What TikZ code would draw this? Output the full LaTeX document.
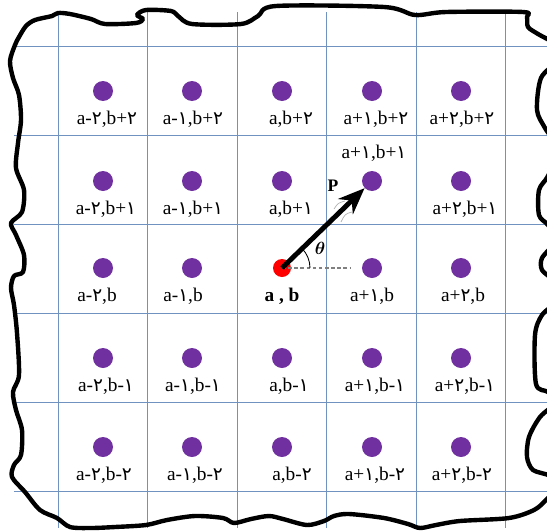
\documentclass[tikz,border=0pt]{standalone}
\usepackage{amsmath,bm}
\usepackage{fontspec}
\setmainfont{Liberation Serif}
\newfontfamily\digfont{DejaVu Sans}
\usetikzlibrary{arrows.meta}
\definecolor{dotpurple}{RGB}{112,48,160}
\definecolor{gridblue}{RGB}{112,146,192}
\newcommand{\yek}{{\digfont\fontsize{10.5}{12}\selectfont ١}}
\newcommand{\doo}{{\digfont\fontsize{10.5}{12}\selectfont ٢}}

\begin{document}
\begin{tikzpicture}[
  x=0.02cm,y=-0.02cm,
  dot/.style={circle,fill=dotpurple,minimum size=0.4cm,inner sep=0pt},
  center/.style={circle,fill=red,minimum size=0.36cm,inner sep=0pt},
  lbl/.style={inner sep=0pt,font=\fontsize{11}{13}\selectfont},
  gridline/.style={draw=gridblue,line width=0.5pt},
  arr/.style={-{Stealth[length=15pt,width=12pt]},line width=2.8pt}]
\useasboundingbox (0,0) rectangle (547,531);
\clip (0,0) rectangle (547,531);
% grid
\foreach \x in {58,147.5,237,326.5,416,505.5} \draw[gridline] (\x,12) -- (\x,528);
\foreach \y in {46,135,224,313,402,491} \draw[gridline] (14,\y) -- (547,\y);
% torn paper edge
\draw[line width=2.5pt,line join=round] plot[smooth cycle,tension=0.5] coordinates {
  (10,61) (15,45) (19,37) (26,26) (35,20) (52,16) (58,13) (70,14) (91,19) (105,24)
  (136,23) (143,19) (137,15) (146,10) (171,11) (178,16) (192,24) (241,24) (258,16)
  (276,6) (384,7) (415,15) (446,12) (523,12) (527,17) (528,27) (538,34) (556,45)
  (558,60) (541,78) (537,110) (545,128) (558,150) (548,176) (539,190) (539,215)
  (548,225) (556,240) (542,258) (542,270) (552,280) (557,300) (542,315) (535,335)
  (536,384) (548,392) (556,402) (540,417) (529,437) (527,457) (533,470) (550,476)
  (556,488) (546,500) (534,510) (509,518) (460,521) (436,525) (420,528) (408,524)
  (384,518) (349,514) (334,516) (324,521) (307,525) (283,519) (269,516) (251,519)
  (234,523) (223,518) (195,516) (167,520) (146,525) (115,527) (91,528) (70,527)
  (57,518) (40,510) (25,492) (12,477) (14,465) (21,455) (22,430) (16,410)
  (13,392) (19,375) (17,333) (14,305) (11,288) (14,276) (23,272) (24,255)
  (16,235) (11,223) (22,212) (24,190) (16,168) (18,143) (21,120) (19,95) (13,78)};
% lattice points
\foreach \n/\x/\y/\lx/\t in {
  11/103/91/107/{a-\doo,b+\doo}, 12/192/91/193/{a-\yek,b+\doo}, 13/282/91/291/{a,b+\doo},
  14/372/91/376/{a+\yek,b+\doo}, 15/461/91/462/{a+\doo,b+\doo},
  21/103/181/106/{a-\doo,b+\yek}, 22/192/181/193/{a-\yek,b+\yek}, 23/282/181/291/{a,b+\yek},
  25/461/181/465/{a+\doo,b+\yek},
  31/103/268/97/{a-\doo,b}, 32/192/268/183/{a-\yek,b}, 34/372/268/372/{a+\yek,b},
  35/461/268/463/{a+\doo,b},
  41/103/358/106/{a-\doo,b-\yek}, 42/192/358/193/{a-\yek,b-\yek}, 43/282/358/289/{a,b-\yek},
  44/372/358/375/{a+\yek,b-\yek}, 45/461/358/465/{a+\doo,b-\yek},
  51/103/447/104/{a-\doo,b-\doo}, 52/192/447/195/{a-\yek,b-\doo}, 53/282/447/292/{a,b-\doo},
  54/372/447/375/{a+\yek,b-\doo}, 55/461/447/462/{a+\doo,b-\doo}}
{
  \node[dot] (d\n) at (\x,\y) {};
  \node[lbl] (t\n) at (\lx,\y+28) {\t};
}
\node[dot] (d24) at (372,181) {};
\node[lbl] (t24) at (374,153) {a+\yek,b+\yek};
\node[center] (c) at (282,268) {};
\node[lbl] (tc) at (282,296) {\textbf{a , b}};
% direction and angle
\coordinate (dashend) at (350,268);
\draw[gray,line width=0.6pt,dash pattern=on 2pt off 1.5pt] (c.center) -- (dashend);
\draw[line width=0.5pt] ([shift={(0.56cm,0)}]c.center) arc[start angle=0,end angle=44,radius=0.56cm];
\draw[gray!60,line width=0.4pt] (334,209) .. controls (338,203) .. (345,201);
\draw[gray!60,line width=0.4pt] (337,216) .. controls (341,208) .. (349,206);
\draw[gray!60,line width=0.4pt] (341,222) .. controls (345,214) .. (352,212);
\draw[arr] (c.center) -- (d24);
\node (th) at (320,248) {$\bm{\theta}$};
\node (pl) at (333,186) {\textbf{P}};
\end{tikzpicture}
\end{document}
